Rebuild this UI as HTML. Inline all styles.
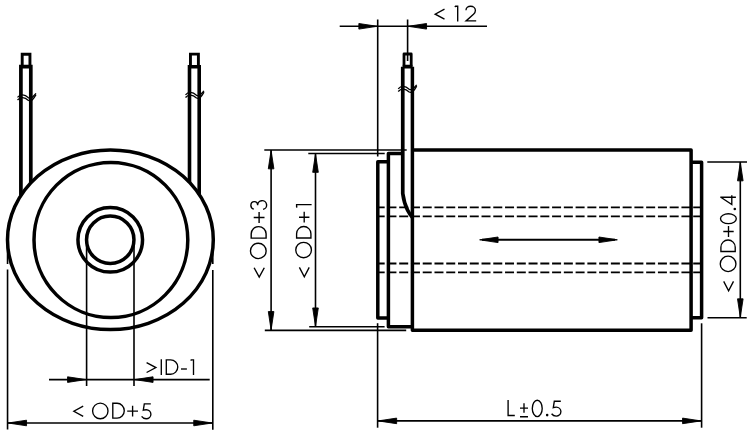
<!DOCTYPE html>
<html><head><meta charset="utf-8"><style>
html,body{margin:0;padding:0;background:#fff;width:750px;height:436px;overflow:hidden}
svg{display:block}
</style></head><body>
<svg width="750" height="436" viewBox="0 0 750 436">
<rect width="750" height="436" fill="#fff"/>
<g fill="none" stroke="#000" stroke-width="3.5">
<ellipse cx="110.4" cy="239.8" rx="102.9" ry="89.8" stroke-width="3.5"/>
<ellipse cx="110.9" cy="240" rx="76.9" ry="77.6" stroke-width="3.5"/>
<circle cx="110.25" cy="239.8" r="32.3"/>
<circle cx="110.25" cy="239.8" r="23.7"/>
<path d="M20.9,195.3 V66.7 H30.8 V182.7" stroke-width="3.7"/><path d="M22.2,66.7 V54.2 H29.95 V66.7" stroke-width="2.9"/>
<path d="M189.5,182.4 V66.7 H199.2 V194.4" stroke-width="3.6"/><path d="M190.45,66.7 V54.1 H198.4 V66.7" stroke-width="2.9"/>
</g>
<path d="M17.5,97.3 C20.5,93.8 24.5,94.3 28.5,97.8 C31.5,99.3 33.5,96.3 36.0,93.3" fill="none" stroke="#000" stroke-width="1.3"/><path d="M17.5,100.0 C20.5,96.5 24.5,97.0 28.5,100.5 C31.5,102.0 33.5,99.0 36.0,94.6" fill="none" stroke="#000" stroke-width="1.3"/>
<path d="M185.5,94.8 C188.5,91.3 192.5,91.8 196.5,95.3 C199.5,96.8 201.5,93.8 204.0,90.8" fill="none" stroke="#000" stroke-width="1.3"/><path d="M185.5,97.5 C188.5,94.0 192.5,94.5 196.5,98.0 C199.5,99.5 201.5,96.5 204.0,92.1" fill="none" stroke="#000" stroke-width="1.3"/>
<path d="M398.2,88.8 C401.2,85.3 405.2,85.8 409.2,89.3 C412.2,90.8 414.2,87.8 416.7,84.8" fill="none" stroke="#000" stroke-width="1.3"/><path d="M398.2,91.5 C401.2,88.0 405.2,88.5 409.2,92.0 C412.2,93.5 414.2,90.5 416.7,86.1" fill="none" stroke="#000" stroke-width="1.3"/>
<g fill="none" stroke="#000" stroke-width="3.5" stroke-linejoin="round">
<path d="M412.4,66.7 V330.2 H691.1 V149.95 H412.4"/>
<path d="M691.1,162.25 H701.6 V317.8 H691.1"/>
<path d="M402.7,153.55 H388.4 V326.7 H412.4"/>
<path d="M388.4,161.8 H377.8 V318.0 H388.4"/>
<path d="M402.75,66.7 V193.5 C403.5,199 405.5,206 407.5,210 C409,213 410.5,215.5 412.4,217.3 M402.75,66.7 H412.4" stroke-width="3.7"/><path d="M404,66.7 V54 H411.2 V66.7" stroke-width="2.8"/>
</g>
<line x1="377.8" y1="207.4" x2="701.6" y2="207.4" stroke="#000" stroke-width="1.8" stroke-dasharray="9 2.76" stroke-dashoffset="2.12"/>
<line x1="377.8" y1="216.3" x2="701.6" y2="216.3" stroke="#000" stroke-width="1.8" stroke-dasharray="9 2.76" stroke-dashoffset="2.12"/>
<line x1="377.8" y1="263.5" x2="701.6" y2="263.5" stroke="#000" stroke-width="1.8" stroke-dasharray="9 2.76" stroke-dashoffset="2.12"/>
<line x1="377.8" y1="272.4" x2="701.6" y2="272.4" stroke="#000" stroke-width="1.8" stroke-dasharray="9 2.76" stroke-dashoffset="2.12"/>
<g stroke="#000" stroke-width="1.6" fill="none">
<line x1="339.7" y1="26.3" x2="487" y2="26.3"/>
<line x1="377.7" y1="19.5" x2="377.7" y2="156.5"/>
<line x1="407.6" y1="19.5" x2="407.6" y2="61"/>
<line x1="271.1" y1="150" x2="271.1" y2="330.4"/>
<line x1="264.3" y1="150" x2="406.7" y2="150"/>
<line x1="264.8" y1="330.4" x2="406.2" y2="330.4"/>
<line x1="315.5" y1="153.5" x2="315.5" y2="326.8"/>
<line x1="308.3" y1="153.5" x2="384.7" y2="153.5"/>
<line x1="309.2" y1="326.8" x2="384.6" y2="326.8"/>
<line x1="740.3" y1="162" x2="740.3" y2="317.7"/>
<line x1="707.3" y1="162" x2="747" y2="162"/>
<line x1="707.5" y1="317.7" x2="746.7" y2="317.7"/>
<line x1="49" y1="379.6" x2="209.7" y2="379.6"/>
<line x1="86.6" y1="245" x2="86.6" y2="386"/>
<line x1="134" y1="245" x2="134" y2="386"/>
<line x1="7.5" y1="423" x2="213" y2="423"/>
<path d="M7.55,240 V264 M7.55,269.6 V429.5"/>
<path d="M212.8,240 V264 M212.8,270 V429.7"/>
<line x1="377.6" y1="420.9" x2="701.6" y2="420.9"/>
<line x1="377.6" y1="323.2" x2="377.6" y2="427.7"/>
<line x1="701.6" y1="323.3" x2="701.6" y2="427.7"/>
<line x1="482" y1="239.8" x2="615" y2="239.8" stroke-width="2"/>
</g>
<path d="M377.25,26.30 L358.85,29.10 L358.85,23.50 Z" fill="#000" stroke="#000" stroke-width="0.9" stroke-linejoin="round"/>
<path d="M408.15,26.30 L426.55,23.50 L426.55,29.10 Z" fill="#000" stroke="#000" stroke-width="0.9" stroke-linejoin="round"/>
<path d="M271.10,150.45 L273.90,168.85 L268.30,168.85 Z" fill="#000" stroke="#000" stroke-width="0.9" stroke-linejoin="round"/>
<path d="M271.10,329.95 L268.30,311.55 L273.90,311.55 Z" fill="#000" stroke="#000" stroke-width="0.9" stroke-linejoin="round"/>
<path d="M315.50,153.95 L318.30,172.35 L312.70,172.35 Z" fill="#000" stroke="#000" stroke-width="0.9" stroke-linejoin="round"/>
<path d="M315.50,326.35 L312.70,307.95 L318.30,307.95 Z" fill="#000" stroke="#000" stroke-width="0.9" stroke-linejoin="round"/>
<path d="M740.30,162.45 L743.10,180.85 L737.50,180.85 Z" fill="#000" stroke="#000" stroke-width="0.9" stroke-linejoin="round"/>
<path d="M740.30,317.25 L737.50,298.85 L743.10,298.85 Z" fill="#000" stroke="#000" stroke-width="0.9" stroke-linejoin="round"/>
<path d="M85.95,379.60 L67.55,382.40 L67.55,376.80 Z" fill="#000" stroke="#000" stroke-width="0.9" stroke-linejoin="round"/>
<path d="M134.65,379.60 L153.05,376.80 L153.05,382.40 Z" fill="#000" stroke="#000" stroke-width="0.9" stroke-linejoin="round"/>
<path d="M8.15,423.00 L26.55,420.20 L26.55,425.80 Z" fill="#000" stroke="#000" stroke-width="0.9" stroke-linejoin="round"/>
<path d="M212.15,423.00 L193.75,425.80 L193.75,420.20 Z" fill="#000" stroke="#000" stroke-width="0.9" stroke-linejoin="round"/>
<path d="M378.25,420.90 L396.65,418.10 L396.65,423.70 Z" fill="#000" stroke="#000" stroke-width="0.9" stroke-linejoin="round"/>
<path d="M700.95,420.90 L682.55,423.70 L682.55,418.10 Z" fill="#000" stroke="#000" stroke-width="0.9" stroke-linejoin="round"/>
<path d="M479.65,239.80 L498.05,237.00 L498.05,242.60 Z" fill="#000" stroke="#000" stroke-width="0.9" stroke-linejoin="round"/>
<path d="M617.35,239.80 L598.95,242.60 L598.95,237.00 Z" fill="#000" stroke="#000" stroke-width="0.9" stroke-linejoin="round"/>
<g fill="none" stroke="#000" stroke-width="1.35" stroke-miterlimit="4">
<path transform="translate(433.9 21.6) scale(1 1.02)" d="M10.6,-12.2 L1.3,-7.3 L10.6,-2.4"/><path transform="translate(457.7 21.6) scale(1 1.02)" d="M-2.9,-14.4 L-2.2,-15.0 H0 V0"/><path transform="translate(465.1 21.6) scale(1 1.02)" d="M0.9,-11.2 C0.9,-13.5 3,-15.0 5.5,-15.0 C8.2,-15.0 10.3,-13.3 10.3,-11.0 C10.3,-9.5 9.6,-8.4 8.4,-7.2 L1.0,-0.675 H11.1"/>
<path transform="translate(146.3 374.9)" d="M0.3,-12.2 L9.6,-7.3 L0.3,-2.4"/><path transform="translate(161.3 374.9)" d="M0,0 V-15.7"/><path transform="translate(166.3 374.9)" d="M0,-15.0 H4.3 A7.16,7.16 0 0 1 4.3,-0.675 H0 Z"/><path transform="translate(181.0 374.9)" d="M0,-5.9 H5.9"/><path transform="translate(193.5 374.9)" d="M-2.9,-14.4 L-2.2,-15.0 H0 V0"/>
<path transform="translate(72.6 418.8) scale(1 1.035)" d="M10.6,-12.2 L1.3,-7.3 L10.6,-2.4"/><ellipse cx="100.3" cy="410.9" rx="7.7" ry="7.85"/><path transform="translate(112.8 418.8) scale(1 1.035)" d="M0,-15.0 H4.3 A7.16,7.16 0 0 1 4.3,-0.675 H0 Z"/><path transform="translate(127.2 418.8) scale(1 1.035)" d="M0,-7.4 H10.8 M5.4,-12.6 V-2.2"/><path transform="translate(141.2 418.8) scale(1 1.035)" d="M9.6,-14.4 H3.1 L2.1,-8.3 C3,-8.7 4,-8.8 5,-8.8 C7.6,-8.8 9.7,-6.85 9.7,-4.45 C9.7,-2.05 7.6,-0.1 5,-0.1 C3.2,-0.1 1.5,-0.9 0.4,-2.4"/>
<path transform="translate(508.1 416.2) scale(1 1.035)" d="M0,-15.7 V-0.675 H6.7"/><path transform="translate(520.0 416.2) scale(1 1.035)" d="M0,-7.8 H8 M4,-12.6 V-3.4 M0,0.6 H8"/><ellipse transform="translate(537.25 416.2) scale(1 1.035)" cx="0" cy="-7.5" rx="4.95" ry="7.9"/><circle transform="translate(545.9 416.2) scale(1 1.035)" cx="1.25" cy="-1.1" r="1.3" fill="#000" stroke="none"/><path transform="translate(551.2 416.2) scale(1 1.035)" d="M9.6,-14.4 H3.1 L2.1,-8.3 C3,-8.7 4,-8.8 5,-8.8 C7.6,-8.8 9.7,-6.85 9.7,-4.45 C9.7,-2.05 7.6,-0.1 5,-0.1 C3.2,-0.1 1.5,-0.9 0.4,-2.4"/>
<path transform="translate(266.8 278.4) rotate(-90) scale(1 1.04)" d="M10.6,-12.2 L1.3,-7.3 L10.6,-2.4"/><ellipse cx="258.3" cy="250.9" rx="7.85" ry="7.7"/><path transform="translate(266.8 238.1) rotate(-90) scale(1 1.04)" d="M0,-15.0 H4.3 A7.16,7.16 0 0 1 4.3,-0.675 H0 Z"/><path transform="translate(266.8 222.9) rotate(-90) scale(1 1.04)" d="M0,-7.4 H10.8 M5.4,-12.6 V-2.2"/><path transform="translate(266.8 209.8) rotate(-90) scale(1 1.04)" d="M0.75,-12.5 A3.75,3.25 0 1 1 4.5,-8.8 A4.4,4.3 0 1 1 0.4,-3.6"/>
<path transform="translate(311.6 278.0) rotate(-90)" d="M10.6,-12.2 L1.3,-7.3 L10.6,-2.4"/><ellipse cx="303.6" cy="250.0" rx="7.85" ry="7.7"/><path transform="translate(311.6 238.0) rotate(-90)" d="M0,-15.0 H4.3 A7.16,7.16 0 0 1 4.3,-0.675 H0 Z"/><path transform="translate(311.6 222.6) rotate(-90)" d="M0,-7.4 H10.8 M5.4,-12.6 V-2.2"/><path transform="translate(311.6 204.6) rotate(-90)" d="M-2.9,-14.4 L-2.2,-15.0 H0 V0"/>
<path transform="translate(735.9 292.0) rotate(-90)" d="M10.6,-12.2 L1.3,-7.3 L10.6,-2.4"/><ellipse cx="728.1" cy="263.9" rx="7.85" ry="7.7"/><path transform="translate(735.9 251.5) rotate(-90)" d="M0,-15.0 H4.3 A7.16,7.16 0 0 1 4.3,-0.675 H0 Z"/><path transform="translate(735.9 236.9) rotate(-90)" d="M0,-7.4 H10.8 M5.4,-12.6 V-2.2"/><ellipse transform="translate(735.9 218.7) rotate(-90)" cx="0" cy="-7.5" rx="4.95" ry="7.9"/><circle transform="translate(735.9 210.25) rotate(-90)" cx="1.25" cy="-1.1" r="1.3" fill="#000" stroke="none"/><path transform="translate(735.9 204.9) rotate(-90)" d="M7.7,0 V-15.6 M7.6,-15.1 L0.3,-4.1 H9.7"/>
</g>
</svg>
</body></html>
